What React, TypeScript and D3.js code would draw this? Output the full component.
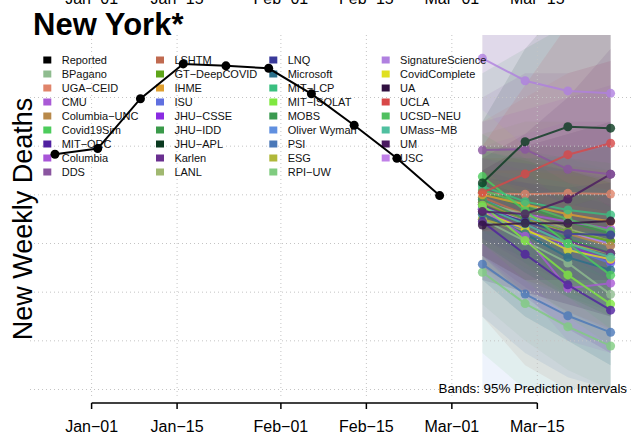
import { useEffect, useRef } from "react";
import * as d3 from "d3";

// legend (column-major, 9 rows per column)
const legendNames = [
  "Reported", "BPagano", "UGA\u2212CEID", "CMU", "Columbia\u2212UNC", "Covid19Sim", "MIT\u2212ORC", "Columbia", "DDS",
  "LSHTM", "GT\u2212DeepCOVID", "IHME", "ISU", "JHU\u2212CSSE", "JHU\u2212IDD", "JHU\u2212APL", "Karlen", "LANL",
  "LNQ", "Microsoft", "MIT\u2212LCP", "MIT\u2212ISOLAT", "MOBS", "Oliver Wyman", "PSI", "ESG", "RPI\u2212UW",
  "SignatureScience", "CovidComplete", "UA", "UCLA", "UCSD\u2212NEU", "UMass\u2212MB", "UM", "USC",
];
const legendColors = [
  "#000000", "#8fbc8f", "#e0846a", "#a95ad6", "#b8894a", "#4ccc5c", "#5020a0", "#a855d8", "#8a55a0",
  "#c06a50", "#5ea51a", "#e0a030", "#6070e0", "#8a2be2", "#3a9a4a", "#0a3a20", "#6a2f90", "#a0b870",
  "#3a3a9a", "#2a708a", "#3abf80", "#80e840", "#3a9a50", "#6090e0", "#4a78b8", "#b0b83a", "#80cc80",
  "#b080e0", "#e0e020", "#301040", "#d84848", "#50c060", "#50c0a0", "#4a1a60", "#c080e8",
];

const xTickLabels = ["Jan\u221201", "Jan\u221215", "Feb\u221201", "Feb\u221215", "Mar\u221201", "Mar\u221215"];
const xTickDates = ["2021-01-01", "2021-01-15", "2021-02-01", "2021-02-15", "2021-03-01", "2021-03-15"];
const gridValues = [0, 200, 400, 600, 800, 1000, 1200];

const reportedDates = [
  "2020-12-26", "2021-01-02", "2021-01-09", "2021-01-16", "2021-01-23",
  "2021-01-30", "2021-02-06", "2021-02-13", "2021-02-20", "2021-02-27",
];
const reportedDeaths = [967, 990, 1195, 1338, 1330, 1320, 1215, 1086, 950, 797];

const forecastDates = ["2021-03-06", "2021-03-13", "2021-03-20", "2021-03-27"];
const forecastModels = [
  "LSHTM", "Oliver Wyman", "JHU\u2212IDD", "Columbia", "LANL", "ISU", "USC", "UGA\u2212CEID",
  "BPagano", "GT\u2212DeepCOVID", "Columbia\u2212UNC", "JHU\u2212CSSE", "ESG", "MOBS", "Karlen",
  "UCSD\u2212NEU", "IHME", "LNQ", "CovidComplete", "UMass\u2212MB", "Microsoft", "CMU",
  "Covid19Sim", "MIT\u2212LCP", "MIT\u2212ISOLAT", "MIT\u2212ORC", "RPI\u2212UW", "PSI",
  "UA", "UM", "DDS", "UCLA", "JHU\u2212APL", "SignatureScience",
];
const forecastPoints = [
  [790, 720, 650, 600], [780, 710, 650, 600], [810, 750, 690, 640], [760, 720, 690, 660],
  [770, 720, 660, 610], [730, 650, 580, 520], [745, 700, 649, 594], [807, 802, 806, 803],
  [700, 610, 520, 391], [760, 700, 650, 610], [770, 700, 640, 590], [740, 660, 590, 530],
  [700, 650, 600, 560], [780, 700, 620, 560], [760, 680, 610, 560],
  [820, 760, 700, 650], [800, 760, 720, 690], [740, 690, 640, 635], [730, 660, 573, 535],
  [750, 680, 600, 543], [720, 640, 543, 491], [740, 630, 416, 437],
  [875, 735, 600, 470], [836, 772, 738, 717], [758, 612, 471, 351], [690, 556, 430, 326],
  [482, 353, 258, 179], [515, 392, 303, 235],
  [676, 683, 683, 692], [731, 721, 783, 885], [984, 987, 905, 885], [809, 886, 965, 1012],
  [849, 1018, 1080, 1074], [1361, 1269, 1227, 1217],
];
const forecastLower = [
  [300, 100, 0, 0], [0, 0, 0, 0], [450, 300, 200, 100], [500, 400, 350, 300],
  [550, 420, 320, 250], [450, 300, 200, 100], [500, 350, 250, 150], [550, 450, 400, 350],
  [350, 200, 80, 0], [550, 450, 380, 320], [600, 480, 380, 300], [550, 420, 320, 240],
  [500, 400, 320, 250], [600, 480, 380, 300], [620, 520, 430, 360],
  [650, 550, 450, 380], [700, 620, 560, 500], [620, 540, 460, 420], [600, 500, 400, 350],
  [600, 480, 380, 300], [600, 500, 400, 330], [550, 400, 200, 150],
  [700, 520, 380, 250], [700, 600, 520, 450], [600, 450, 300, 180], [550, 380, 250, 150],
  [150, 0, 0, 0], [300, 150, 50, 0],
  [450, 400, 350, 300], [550, 450, 450, 450], [800, 700, 550, 450], [650, 650, 650, 650],
  [650, 700, 650, 600], [1150, 1000, 900, 850],
];
const forecastUpper = [
  [1500, 1600, 1700, 1800], [1500, 1600, 1700, 1800], [1300, 1400, 1500, 1600], [1100, 1150, 1200, 1250],
  [1050, 1100, 1100, 1100], [1000, 1000, 1000, 1000], [1000, 1050, 1100, 1100], [1100, 1200, 1300, 1350],
  [950, 950, 950, 900], [1000, 1000, 1000, 1000], [950, 950, 920, 900], [950, 930, 900, 870],
  [900, 900, 880, 870], [980, 940, 900, 860], [900, 850, 800, 760],
  [1000, 980, 950, 930], [900, 900, 900, 900], [870, 850, 830, 850], [870, 830, 760, 730],
  [900, 880, 850, 820], [850, 800, 720, 680], [950, 900, 750, 800],
  [1050, 950, 850, 750], [980, 950, 960, 1000], [900, 800, 700, 600], [850, 750, 650, 550],
  [800, 750, 700, 650], [750, 700, 650, 600],
  [900, 1000, 1050, 1100], [950, 1050, 1200, 1400], [1200, 1300, 1300, 1350], [1000, 1250, 1500, 1700],
  [1100, 1400, 1600, 1700], [1600, 1650, 1700, 1750],
];

const W = 631;
const H = 435;
const plot = { left: 30, right: 631, top: 35, bottom: 398 };
const font = "'Liberation Sans', Arial, Helvetica, sans-serif";

const App = () => {
  const svgRef = useRef<SVGSVGElement | null>(null);

  useEffect(() => {
    document.body.style.margin = "0";
    const svg = d3.select(svgRef.current);
    svg.selectAll("*").remove();
    svg.attr("width", W).attr("height", H).style("display", "block").style("background", "#fff");

    const parse = (s: string) => new Date(s + "T00:00:00Z");
    const x = d3
      .scaleUtc()
      .domain([parse("2021-01-01"), parse("2021-03-27")])
      .range([91.6, 610.6]);
    const y = d3.scaleLinear().domain([0, 1200]).range([389.5, 97.5]);
    const colorOf = new Map(legendNames.map((n, i) => [n, legendColors[i]]));

    svg
      .append("defs")
      .append("clipPath")
      .attr("id", "plotclip")
      .append("rect")
      .attr("x", plot.left)
      .attr("y", plot.top)
      .attr("width", plot.right - plot.left)
      .attr("height", plot.bottom - plot.top);

    // tick labels of the panel above, cut off by the page edge
    svg
      .append("g")
      .selectAll("text")
      .data(xTickDates)
      .join("text")
      .attr("x", (d) => x(parse(d)))
      .attr("y", 3.5)
      .attr("text-anchor", "middle")
      .attr("font-family", font)
      .attr("font-size", 16)
      .text((_, i) => xTickLabels[i]);

    const clipped = svg.append("g").attr("clip-path", "url(#plotclip)");

    // prediction bands
    const fDates = forecastDates.map(parse);
    forecastModels.forEach((m, k) => {
      const area = d3
        .area<number>()
        .x((_, i) => x(fDates[i]))
        .y0((_, i) => y(forecastLower[k][i]))
        .y1((_, i) => y(forecastUpper[k][i]));
      clipped
        .append("path")
        .attr("d", area([0, 1, 2, 3]))
        .attr("fill", colorOf.get(m) || "#888")
        .attr("fill-opacity", 0.11);
    });

    // grid
    const grid = svg.append("g").attr("stroke", "#c4c4c4").attr("stroke-dasharray", "1,3");
    grid
      .selectAll("line.h")
      .data(gridValues)
      .join("line")
      .attr("class", "h")
      .attr("x1", plot.left)
      .attr("x2", plot.right)
      .attr("y1", (d) => y(d))
      .attr("y2", (d) => y(d));
    grid
      .selectAll("line.v")
      .data(xTickDates)
      .join("line")
      .attr("class", "v")
      .attr("x1", (d) => x(parse(d)))
      .attr("x2", (d) => x(parse(d)))
      .attr("y1", plot.top)
      .attr("y2", plot.bottom);

    // legend
    const legend = svg.append("g").attr("font-family", font).attr("font-size", 11);
    const colX = [47.3, 160, 273.3, 385.7];
    legendNames.forEach((n, i) => {
      const c = Math.floor(i / 9);
      const r = i % 9;
      const cy = 60 + r * 14;
      legend
        .append("rect")
        .attr("x", colX[c] - 4)
        .attr("y", cy - 3.5)
        .attr("width", 8)
        .attr("height", 7)
        .attr("fill", legendColors[i]);
      legend
        .append("text")
        .attr("x", colX[c] + 14.4)
        .attr("y", cy + 4)
        .attr("fill", "#111")
        .text(n);
    });

    // reported
    const rDates = reportedDates.map(parse);
    const line = d3
      .line<number>()
      .x((_, i) => x(rDates[i]))
      .y((d) => y(d));
    svg
      .append("path")
      .attr("d", line(reportedDeaths))
      .attr("fill", "none")
      .attr("stroke", "#000")
      .attr("stroke-width", 2);
    svg
      .append("g")
      .selectAll("circle")
      .data(reportedDeaths)
      .join("circle")
      .attr("cx", (_, i) => x(rDates[i]))
      .attr("cy", (d) => y(d))
      .attr("r", 4.5)
      .attr("fill", "#000");

    // forecasts
    const fLine = d3
      .line<number>()
      .x((_, i) => x(fDates[i]))
      .y((d) => y(d));
    forecastModels.forEach((m, k) => {
      const col = colorOf.get(m) || "#888";
      const g = clipped.append("g").attr("opacity", 0.8);
      g.append("path")
        .attr("d", fLine(forecastPoints[k]))
        .attr("fill", "none")
        .attr("stroke", col)
        .attr("stroke-width", 2);
      g.selectAll("circle")
        .data(forecastPoints[k])
        .join("circle")
        .attr("cx", (_, i) => x(fDates[i]))
        .attr("cy", (d) => y(d))
        .attr("r", 4.5)
        .attr("fill", col);
    });

    // x axis
    const axis = svg.append("g").attr("stroke", "#000").attr("stroke-width", 1.5);
    const axisY = 403;
    axis
      .append("line")
      .attr("x1", x(parse(xTickDates[0])))
      .attr("x2", x(parse(xTickDates[xTickDates.length - 1])))
      .attr("y1", axisY)
      .attr("y2", axisY);
    axis
      .selectAll("line.t")
      .data(xTickDates)
      .join("line")
      .attr("class", "t")
      .attr("x1", (d) => x(parse(d)))
      .attr("x2", (d) => x(parse(d)))
      .attr("y1", axisY)
      .attr("y2", axisY + 6);
    svg
      .append("g")
      .selectAll("text")
      .data(xTickDates)
      .join("text")
      .attr("x", (d) => x(parse(d)))
      .attr("y", 432)
      .attr("text-anchor", "middle")
      .attr("font-family", font)
      .attr("font-size", 16)
      .text((_, i) => xTickLabels[i]);

    svg
      .append("text")
      .attr("x", 627)
      .attr("y", 393)
      .attr("text-anchor", "end")
      .attr("font-family", font)
      .attr("font-size", 13.3)
      .text("Bands: 95% Prediction Intervals");

    svg
      .append("text")
      .attr("x", 33)
      .attr("y", 35)
      .attr("font-family", font)
      .attr("font-size", 31)
      .attr("font-weight", "bold")
      .text("New York*");

    svg
      .append("text")
      .attr("transform", "translate(32,219) rotate(-90)")
      .attr("text-anchor", "middle")
      .attr("font-family", font)
      .attr("font-size", 27)
      .text("New Weekly Deaths");
  });

  return <svg ref={svgRef} />;
};

export default App;
